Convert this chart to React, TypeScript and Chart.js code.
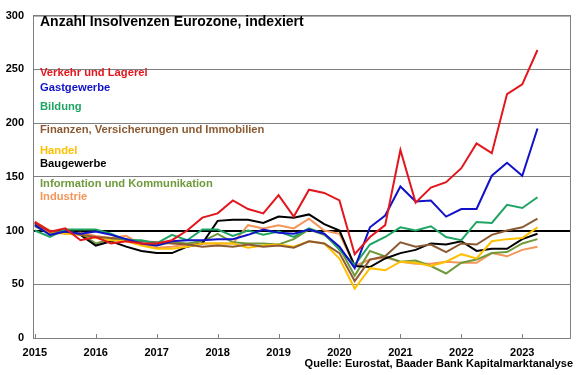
import React, { useEffect, useRef } from 'react';
import { Chart, registerables } from 'chart.js';

Chart.register(...registerables);

const quarters = [
  '2015Q1', '2015Q2', '2015Q3', '2015Q4', '2016Q1', '2016Q2', '2016Q3', '2016Q4',
  '2017Q1', '2017Q2', '2017Q3', '2017Q4', '2018Q1', '2018Q2', '2018Q3', '2018Q4',
  '2019Q1', '2019Q2', '2019Q3', '2019Q4', '2020Q1', '2020Q2', '2020Q3', '2020Q4',
  '2021Q1', '2021Q2', '2021Q3', '2021Q4', '2022Q1', '2022Q2', '2022Q3', '2022Q4',
  '2023Q1', '2023Q2',
];

const verkehr = [108, 99, 102, 91, 94, 88, 90, 88, 88, 91, 100, 112, 116, 128, 120, 116, 133, 113, 138, 135, 128, 78, 94, 105, 175, 126, 140, 145, 158, 181, 172, 227, 236, 268];
const gastgewerbe = [105, 96, 99, 97, 99, 96, 92, 88, 86, 90, 91, 91, 92, 92, 96, 101, 98, 97, 101, 97, 85, 65, 103, 114, 141, 127, 128, 113, 120, 120, 151, 163, 151, 195];
const bildung = [100, 94, 101, 101, 101, 97, 91, 91, 88, 96, 91, 101, 101, 95, 100, 96, 99, 94, 102, 97, 82, 68, 87, 94, 103, 100, 104, 94, 91, 108, 107, 124, 121, 131];
const finanzen = [106, 99, 99, 96, 94, 93, 92, 90, 89, 88, 87, 85, 86, 85, 87, 85, 86, 84, 90, 88, 79, 53, 73, 76, 89, 85, 87, 80, 88, 87, 96, 100, 103, 111];
const handel = [105, 98, 97, 96, 93, 91, 90, 86, 83, 83, 85, 88, 88, 88, 84, 86, 87, 85, 90, 88, 74, 46, 65, 63, 71, 70, 67, 71, 78, 74, 90, 92, 93, 103];
const baugewerbe = [107, 99, 99, 96, 86, 90, 85, 81, 79, 79, 85, 88, 109, 110, 110, 107, 113, 112, 115, 106, 100, 67, 66, 74, 79, 82, 88, 87, 90, 81, 83, 83, 92, 97];
const information = [104, 97, 99, 97, 88, 92, 91, 88, 86, 89, 88, 90, 97, 89, 88, 88, 87, 92, 101, 96, 84, 58, 81, 76, 71, 72, 67, 60, 70, 73, 79, 80, 88, 92];
const industrie = [108, 100, 97, 98, 95, 93, 95, 87, 84, 85, 87, 88, 88, 88, 105, 102, 105, 102, 111, 100, 97, 67, 73, 75, 71, 69, 69, 71, 70, 70, 79, 76, 82, 85];

const seriesNames = [
  'Verkehr und Lagerei',
  'Gastgewerbe',
  'Bildung',
  'Finanzen, Versicherungen und Immobilien',
  'Handel',
  'Baugewerbe',
  'Information und Kommunikation',
  'Industrie',
];
const seriesValues = [verkehr, gastgewerbe, bildung, finanzen, handel, baugewerbe, information, industrie];
const seriesColors = ['#e3161d', '#1212c8', '#1fa463', '#8c5a32', '#ffc000', '#000000', '#6f9a3c', '#f4955a'];
const legendY = [73, 88, 107, 130, 151, 164, 184, 197];

const yearTicks = [2015, 2016, 2017, 2018, 2019, 2020, 2021, 2022, 2023];
const yTicks = [0, 50, 100, 150, 200, 250, 300];

const titleText = 'Anzahl Insolvenzen Eurozone, indexiert';
const sourceText = 'Quelle: Eurostat, Baader Bank Kapitalmarktanalyse';

const FONT = '"Liberation Sans", Arial, sans-serif';

function quarterToX(q: string): number {
  const year = parseInt(q.slice(0, 4), 10);
  const qu = parseInt(q.slice(5), 10);
  return year + (qu - 1) / 4;
}

const overlayPlugin = {
  id: 'overlay',
  afterDraw(chart: any) {
    const { ctx, chartArea } = chart;
    const xs = chart.scales.x;
    ctx.save();
    // frame
    ctx.strokeStyle = '#7f7f7f';
    ctx.lineWidth = 1;
    ctx.strokeRect(chartArea.left + 0.5, chartArea.top + 0.5, chartArea.right - chartArea.left - 1, chartArea.bottom - chartArea.top);
    // inward ticks on x axis
    ctx.beginPath();
    yearTicks.forEach((yr) => {
      const px = Math.round(xs.getPixelForValue(yr)) + 0.5;
      ctx.moveTo(px, chartArea.bottom);
      ctx.lineTo(px, chartArea.bottom - 4);
    });
    ctx.stroke();
    // title
    ctx.fillStyle = '#000';
    ctx.textBaseline = 'middle';
    ctx.textAlign = 'left';
    ctx.font = `bold 14px ${FONT}`;
    ctx.fillText(titleText, 40, 22);
    // legend labels
    ctx.font = `bold 11.2px ${FONT}`;
    seriesNames.forEach((name, i) => {
      ctx.fillStyle = seriesColors[i];
      ctx.fillText(name, 40, legendY[i]);
    });
    // source
    ctx.fillStyle = '#000';
    ctx.textAlign = 'right';
    ctx.font = `bold 11px ${FONT}`;
    ctx.fillText(sourceText, 573, 364);
    ctx.restore();
  },
};

export default function App() {
  const ref = useRef<HTMLCanvasElement | null>(null);
  useEffect(() => {
    if (!ref.current) return;
    const xVals = quarters.map(quarterToX);
    const chart = new Chart(ref.current, {
      type: 'line',
      data: {
        datasets: seriesNames.map((name, i) => ({
          label: name,
          data: seriesValues[i].map((v, j) => ({ x: xVals[j], y: v })),
          borderColor: seriesColors[i],
          backgroundColor: seriesColors[i],
          borderWidth: 2,
          pointRadius: 0,
          tension: 0,
          fill: false,
        })),
      },
      options: {
        responsive: false,
        animation: false,
        maintainAspectRatio: false,
        layout: { padding: { top: 10, right: 9, bottom: 17, left: 0 } },
        plugins: { legend: { display: false }, tooltip: { enabled: false }, title: { display: false } },
        scales: {
          x: {
            type: 'linear',
            min: 2014.97,
            max: 2023.8,
            afterBuildTicks: (scale: any) => {
              scale.ticks = yearTicks.map((v) => ({ value: v }));
            },
            afterFit: (scale: any) => {
              scale.height = 20;
            },
            grid: { display: false, drawTicks: false },
            border: { display: false },
            ticks: {
              padding: 8,
              color: '#000',
              font: { family: FONT, size: 11, weight: 'bold' },
              callback: (v: any) => String(v),
              maxRotation: 0,
              autoSkip: false,
            },
          },
          y: {
            min: 0,
            max: 300,
            afterBuildTicks: (scale: any) => {
              scale.ticks = yTicks.map((v) => ({ value: v }));
            },
            afterFit: (scale: any) => {
              scale.width = 33;
            },
            grid: {
              drawTicks: false,
              color: (c: any) => (c.tick && c.tick.value === 100 ? '#000000' : '#7f7f7f'),
              lineWidth: (c: any) => (c.tick && c.tick.value === 100 ? 2 : 1),
            },
            border: { display: false },
            ticks: {
              padding: 9,
              color: '#000',
              font: { family: FONT, size: 11, weight: 'bold' },
              callback: (v: any) => String(v),
            },
          },
        },
      },
      plugins: [overlayPlugin],
    } as any);
    return () => chart.destroy();
  }, []);
  return (
    <div style={{ position: 'fixed', left: 0, top: 0, width: 580, height: 375, background: '#fff' }}>
      <canvas ref={ref} width={580} height={375} style={{ width: 580, height: 375, display: 'block' }} />
    </div>
  );
}
